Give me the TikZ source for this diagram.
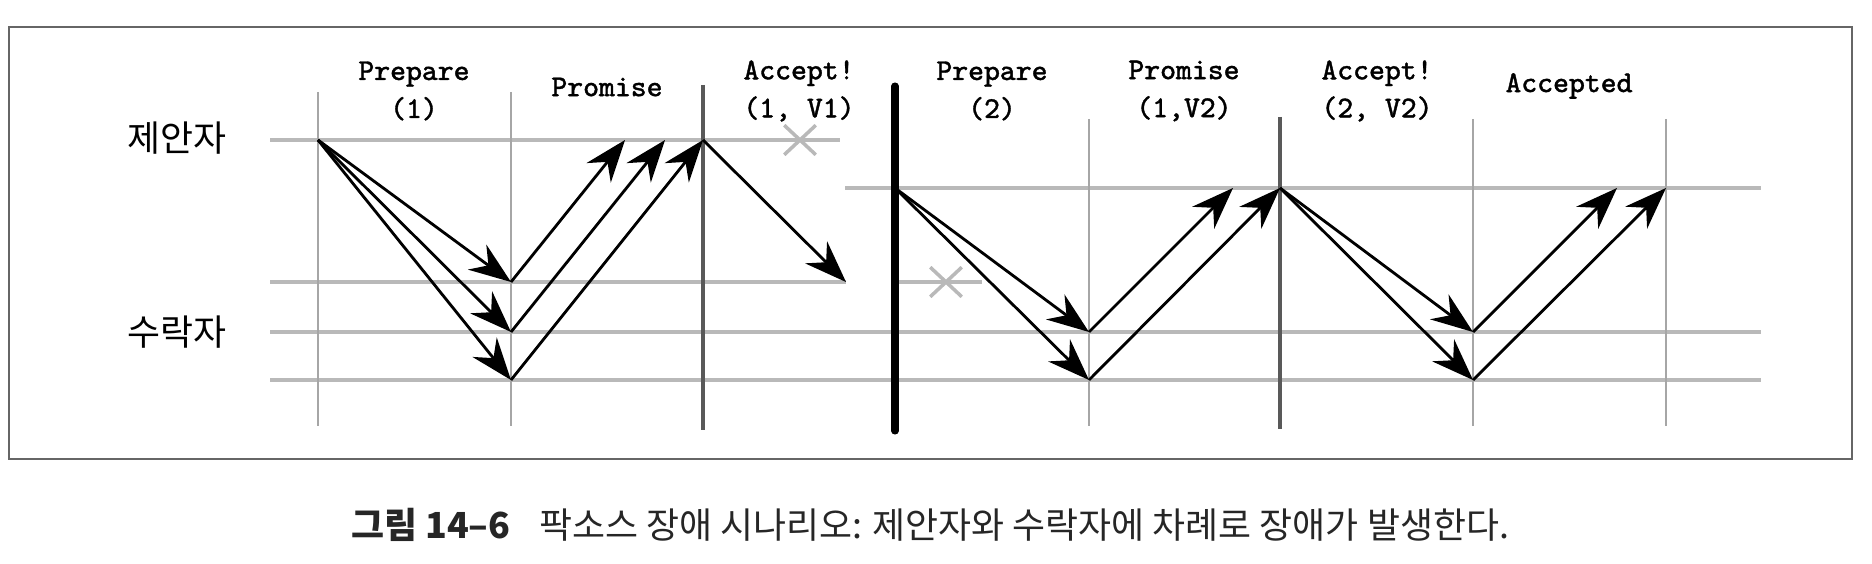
\documentclass[tikz,border=0pt]{standalone}
\usepackage{fontspec}
\newfontfamily\krfont{Noto Sans CJK KR}
\newfontfamily\labeltt[FakeBold=1.2]{Latin Modern Mono}
\usepackage{tikz}
\usetikzlibrary{arrows.meta,shapes.misc}
\tikzset{thinline/.style={draw=gray!70,line width=0.45pt},
        rowline/.style={draw=gray!55,line width=0.9pt},
        phaseline/.style={draw=black!65,line width=1.3pt},
        crashline/.style={draw=black,line width=2pt,line cap=round},
        msg/.style={-{Stealth[length=0.42cm,width=0.31cm,inset=0.14cm]},line width=0.8pt},
        lbl/.style={font=\fontsize{8.6}{10.8}\selectfont\labeltt,align=center,inner sep=0pt},
        role/.style={font=\fontsize{10.2}{12}\selectfont\krfont,inner sep=0pt},
        xmark/.style={cross out,draw=gray!55,line width=1pt,minimum width=0.28cm,
        minimum height=0.26cm,inner sep=0pt}}

\begin{document}
\begin{tikzpicture}[x=0.01cm,y=-0.01cm]
  \useasboundingbox (0,0) rectangle (1872,564);
  \draw[draw=black!60,line width=0.5pt] (9,27) rectangle (1852,459);
  \coordinate (c0) at (318,0);  \coordinate (c1) at (511,0);
  \coordinate (c2) at (703,0);  \coordinate (c3) at (895,0);
  \coordinate (c4) at (1089,0); \coordinate (c5) at (1280,0);
  \coordinate (c6) at (1473,0); \coordinate (c7) at (1666,0);
  \coordinate (p1) at (0,140);  \coordinate (p2) at (0,188);
  \coordinate (a1) at (0,282);  \coordinate (a2) at (0,332);
  \coordinate (a3) at (0,380);
  \coordinate (r1) at (625,140); \coordinate (r2) at (665,140);
  \coordinate (r3) at (846,282); \coordinate (r4) at (1233,188);
  \coordinate (r5) at (1617,188);
  % lines
  \draw[rowline] (270,140) -- (840,140);
  \draw[rowline] (270,282) -- (846,282);
  \draw[rowline] (895,282) -- (982,282);
  \draw[rowline] (845,188) -- (1761,188);
  \draw[rowline] (270,332) -- (1761,332);
  \draw[rowline] (270,380) -- (1761,380);
  \draw[thinline] (318,92) -- (318,426);
  \draw[thinline] (511,92) -- (511,426);
  \draw[thinline] (1089,119) -- (1089,426);
  \draw[thinline] (1473,119) -- (1473,426);
  \draw[thinline] (1666,119) -- (1666,426);
  \draw[phaseline] (703,85) -- (703,430);
  \draw[phaseline] (1280,117) -- (1280,429);
  \draw[crashline] (895,86) -- (895,431);
  \node[xmark] (x1) at (800,140) {};
  \node[xmark] (x2) at (946,282) {};
  \node[role] (prop) at (177,138) {제안자};
  \node[role] (accp) at (177,332) {수락자};
  \node[lbl] (prep1) at (414,91) {Prepare\\(1)};
  \node[lbl] (prom1) at (607,87) {Promise};
  \node[lbl] (acc1) at (799,91) {Accept!\\(1, V1)};
  \node[lbl] (prep2) at (992,91) {Prepare\\(2)};
  \node[lbl] (prom2) at (1184,91) {Promise\\(1,V2)};
  \node[lbl] (acc2) at (1377,91) {Accept!\\(2, V2)};
  \node[lbl] (accd) at (1569,86) {Accepted};
  % messages
  \draw[msg] (c0|-p1) -- (c1|-a1);
  \draw[msg] (c0|-p1) -- (c1|-a2);
  \draw[msg] (c0|-p1) -- (c1|-a3);
  \draw[msg] (c1|-a1) -- (r1);
  \draw[msg] (c1|-a2) -- (r2);
  \draw[msg] (c1|-a3) -- (c2|-p1);
  \draw[msg] (c2|-p1) -- (r3);
  \draw[msg] (c3|-p2) -- (c4|-a2);
  \draw[msg] (c3|-p2) -- (c4|-a3);
  \draw[msg] (c4|-a2) -- (r4);
  \draw[msg] (c4|-a3) -- (c5|-p2);
  \draw[msg] (c5|-p2) -- (c6|-a2);
  \draw[msg] (c5|-p2) -- (c6|-a3);
  \draw[msg] (c6|-a2) -- (r5);
  \draw[msg] (c6|-a3) -- (c7|-p2);
  \node[font=\fontsize{10.2}{12}\selectfont\krfont,text=black!85,inner sep=0pt] (cap) at (930,525)
    {\textbf{그림 14–6}\hspace{0.8em}팍소스 장애 시나리오: 제안자와 수락자에 차례로 장애가 발생한다.};
\end{tikzpicture}
\end{document}
